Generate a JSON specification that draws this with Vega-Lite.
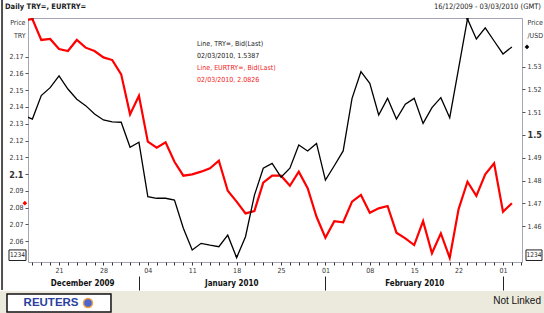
{
  "$schema": "https://vega.github.io/schema/vega-lite/v6.json",
  "width": 494,
  "height": 244,
  "autosize": {"type": "none"},
  "padding": {"left": 28, "top": 18, "right": 22, "bottom": 51},
  "background": "white",
  "config": {
    "font": "Liberation Sans Narrow, Arial Narrow, DejaVu Sans Condensed, Liberation Sans, sans-serif",
    "view": {"stroke": "#a6a6b6", "strokeWidth": 1},
    "axis": {"grid": false, "domain": false}
  },
  "datasets": {
    "fx": [
      {"i": -1, "date": "2009-12-15", "TRY": 1.5086, "EURTRY": 2.1914},
      {"i": 0, "date": "2009-12-16", "TRY": 1.5070, "EURTRY": 2.1925},
      {"i": 1, "date": "2009-12-17", "TRY": 1.5173, "EURTRY": 2.1800},
      {"i": 2, "date": "2009-12-18", "TRY": 1.5208, "EURTRY": 2.1806},
      {"i": 3, "date": "2009-12-21", "TRY": 1.5260, "EURTRY": 2.1746},
      {"i": 4, "date": "2009-12-22", "TRY": 1.5202, "EURTRY": 2.1734},
      {"i": 5, "date": "2009-12-23", "TRY": 1.5157, "EURTRY": 2.1800},
      {"i": 6, "date": "2009-12-24", "TRY": 1.5129, "EURTRY": 2.1754},
      {"i": 7, "date": "2009-12-25", "TRY": 1.5092, "EURTRY": 2.1734},
      {"i": 8, "date": "2009-12-28", "TRY": 1.5066, "EURTRY": 2.1696},
      {"i": 9, "date": "2009-12-29", "TRY": 1.5058, "EURTRY": 2.1680},
      {"i": 10, "date": "2009-12-30", "TRY": 1.5056, "EURTRY": 2.1595},
      {"i": 11, "date": "2009-12-31", "TRY": 1.4946, "EURTRY": 2.1356},
      {"i": 12, "date": "2010-01-01", "TRY": 1.4968, "EURTRY": 2.1467},
      {"i": 13, "date": "2010-01-04", "TRY": 1.4729, "EURTRY": 2.1193},
      {"i": 14, "date": "2010-01-05", "TRY": 1.4722, "EURTRY": 2.1157},
      {"i": 15, "date": "2010-01-06", "TRY": 1.4722, "EURTRY": 2.1189},
      {"i": 16, "date": "2010-01-07", "TRY": 1.4714, "EURTRY": 2.1073},
      {"i": 17, "date": "2010-01-08", "TRY": 1.4590, "EURTRY": 2.0990},
      {"i": 18, "date": "2010-01-11", "TRY": 1.4495, "EURTRY": 2.0998},
      {"i": 19, "date": "2010-01-12", "TRY": 1.4524, "EURTRY": 2.1014},
      {"i": 20, "date": "2010-01-13", "TRY": 1.4516, "EURTRY": 2.1034},
      {"i": 21, "date": "2010-01-14", "TRY": 1.4509, "EURTRY": 2.1079},
      {"i": 22, "date": "2010-01-15", "TRY": 1.4560, "EURTRY": 2.0900},
      {"i": 23, "date": "2010-01-18", "TRY": 1.4461, "EURTRY": 2.0835},
      {"i": 24, "date": "2010-01-19", "TRY": 1.4553, "EURTRY": 2.0765},
      {"i": 25, "date": "2010-01-20", "TRY": 1.4735, "EURTRY": 2.0779},
      {"i": 26, "date": "2010-01-21", "TRY": 1.4854, "EURTRY": 2.0948},
      {"i": 27, "date": "2010-01-22", "TRY": 1.4875, "EURTRY": 2.0990},
      {"i": 28, "date": "2010-01-25", "TRY": 1.4815, "EURTRY": 2.0990},
      {"i": 29, "date": "2010-01-26", "TRY": 1.4854, "EURTRY": 2.0930},
      {"i": 30, "date": "2010-01-27", "TRY": 1.4956, "EURTRY": 2.1014},
      {"i": 31, "date": "2010-01-28", "TRY": 1.4930, "EURTRY": 2.0915},
      {"i": 32, "date": "2010-01-29", "TRY": 1.4963, "EURTRY": 2.0745},
      {"i": 33, "date": "2010-02-01", "TRY": 1.4802, "EURTRY": 2.0620},
      {"i": 34, "date": "2010-02-02", "TRY": 1.4865, "EURTRY": 2.0719},
      {"i": 35, "date": "2010-02-03", "TRY": 1.4930, "EURTRY": 2.0712},
      {"i": 36, "date": "2010-02-04", "TRY": 1.5161, "EURTRY": 2.0835},
      {"i": 37, "date": "2010-02-05", "TRY": 1.5278, "EURTRY": 2.0875},
      {"i": 38, "date": "2010-02-08", "TRY": 1.5227, "EURTRY": 2.0769},
      {"i": 39, "date": "2010-02-09", "TRY": 1.5088, "EURTRY": 2.0795},
      {"i": 40, "date": "2010-02-10", "TRY": 1.5161, "EURTRY": 2.0809},
      {"i": 41, "date": "2010-02-11", "TRY": 1.5070, "EURTRY": 2.0650},
      {"i": 42, "date": "2010-02-12", "TRY": 1.5135, "EURTRY": 2.0616},
      {"i": 43, "date": "2010-02-15", "TRY": 1.5161, "EURTRY": 2.0576},
      {"i": 44, "date": "2010-02-16", "TRY": 1.5051, "EURTRY": 2.0719},
      {"i": 45, "date": "2010-02-17", "TRY": 1.5120, "EURTRY": 2.0527},
      {"i": 46, "date": "2010-02-18", "TRY": 1.5164, "EURTRY": 2.0646},
      {"i": 47, "date": "2010-02-19", "TRY": 1.5076, "EURTRY": 2.0500},
      {"i": 48, "date": "2010-02-22", "TRY": 1.5293, "EURTRY": 2.0791},
      {"i": 49, "date": "2010-02-23", "TRY": 1.5510, "EURTRY": 2.0954},
      {"i": 50, "date": "2010-02-24", "TRY": 1.5422, "EURTRY": 2.0870},
      {"i": 51, "date": "2010-02-25", "TRY": 1.5471, "EURTRY": 2.0998},
      {"i": 52, "date": "2010-02-26", "TRY": 1.5413, "EURTRY": 2.1064},
      {"i": 53, "date": "2010-03-01", "TRY": 1.5356, "EURTRY": 2.0775},
      {"i": 54, "date": "2010-03-02", "TRY": 1.5387, "EURTRY": 2.0826}
    ]
  },
  "data": {"name": "fx"},
  "resolve": {"scale": {"y": "independent"}, "axis": {"x": "independent"}},
  "layer": [
    {
      "data": {"values": [{"part": "footer"}]},
      "mark": {"type": "rect", "color": "#ECEADC"},
      "encoding": {
        "x": {"datum": -4, "type": "quantitative", "scale": {"domain": [-0.495, 55.14], "nice": false, "zero": false}, "axis": null},
        "x2": {"datum": 58},
        "y": {"datum": 2.0302, "type": "quantitative", "scale": {"domain": [2.0475, 2.1931], "nice": false, "zero": false}, "axis": null},
        "y2": {"datum": 2.015}
      }
    },
    {
      "data": {"values": [{"part": "border"}]},
      "mark": {"type": "rule", "color": "#505050", "strokeWidth": 2},
      "encoding": {
        "x": {"datum": -3.42, "type": "quantitative", "scale": {"domain": [-0.495, 55.14], "nice": false, "zero": false}, "axis": null},
        "y": {"datum": 2.2038, "type": "quantitative", "scale": {"domain": [2.0475, 2.1931], "nice": false, "zero": false}, "axis": null},
        "y2": {"datum": 2.0308}
      }
    },
    {
      "mark": {"type": "line", "color": "#ff0000", "strokeWidth": 2.2, "clip": true},
      "encoding": {
        "x": {
          "field": "i", "type": "quantitative",
          "scale": {"domain": [-0.495, 55.14], "nice": false, "zero": false},
          "axis": {
            "orient": "bottom",
            "values": [0,1,2,3,4,5,6,7,8,9,10,11,12,13,14,15,16,17,18,19,20,21,22,23,24,25,26,27,28,29,30,31,32,33,34,35,36,37,38,39,40,41,42,43,44,45,46,47,48,49,50,51,52,53,54,55],
            "labelExpr": "(datum.value - 3) % 5 == 0 ? ['21','28','04','11','18','25','01','08','15','22','01'][(datum.value - 3) / 5] : ''",
            "tickSize": 3, "tickColor": "#333333", "tickWidth": 1,
            "labelFontSize": 7, "labelColor": "#333333", "labelPadding": 1,
            "labelOverlap": false, "labelBound": false, "labelFlush": false,
            "title": null, "domain": false, "grid": false
          }
        },
        "y": {
          "field": "EURTRY", "type": "quantitative",
          "scale": {"domain": [2.0475, 2.1931], "nice": false, "zero": false},
          "axis": {
            "orient": "left",
            "values": [2.06, 2.07, 2.08, 2.09, 2.1, 2.11, 2.12, 2.13, 2.14, 2.15, 2.16, 2.17],
            "format": ".3~g",
            "tickSize": 3, "tickColor": "#555555",
            "labelFontSize": {"condition": {"test": "datum.value == 2.1", "value": 9}, "value": 7},
            "labelFontWeight": {"condition": {"test": "datum.value == 2.1", "value": "bold"}, "value": "normal"},
            "labelColor": "#333333", "labelPadding": 2,
            "domain": false, "grid": false,
            "title": ["Price", "TRY"], "titleAngle": 0, "titleAlign": "right", "titleBaseline": "top",
            "titleX": -3, "titleY": 0, "titleFontSize": 7, "titleFontWeight": "normal",
            "titleColor": "#333333", "titleLineHeight": 13
          }
        }
      }
    },
    {
      "mark": {"type": "line", "color": "#000000", "strokeWidth": 1.3, "clip": true},
      "encoding": {
        "x": {
          "field": "i", "type": "quantitative",
          "scale": {"domain": [-0.495, 55.14], "nice": false, "zero": false},
          "axis": {
            "orient": "bottom", "offset": 14,
            "values": [5.6, 12, 22.4, 33, 43, 53],
            "labelExpr": "datum.value == 5.6 ? 'December 2009' : datum.value == 22.4 ? 'January 2010' : datum.value == 43 ? 'February 2010' : ''",
            "tickSize": 14, "tickColor": "#222222", "tickWidth": 1,
            "tickOpacity": {"condition": {"test": "datum.value == 12 || datum.value == 33 || datum.value == 53", "value": 1}, "value": 0},
            "labelFontSize": 8, "labelFontWeight": "bold", "labelColor": "#111111",
            "labelBaseline": "middle", "labelPadding": -7,
            "labelOverlap": false, "labelBound": false, "labelFlush": false,
            "title": null, "domain": false, "grid": false
          }
        },
        "y": {
          "field": "TRY", "type": "quantitative",
          "scale": {"domain": [1.4442, 1.5514], "nice": false, "zero": false},
          "axis": {
            "orient": "right",
            "values": [1.46, 1.47, 1.48, 1.49, 1.5, 1.51, 1.52, 1.53],
            "format": ".3~g",
            "tickSize": 3, "tickColor": "#555555",
            "labelFontSize": {"condition": {"test": "datum.value == 1.5", "value": 9}, "value": 7},
            "labelFontWeight": {"condition": {"test": "datum.value == 1.5", "value": "bold"}, "value": "normal"},
            "labelColor": "#333333", "labelPadding": 2,
            "domain": false, "grid": false,
            "title": ["Price", "/USD"], "titleAngle": 0, "titleAlign": "left", "titleBaseline": "top",
            "titleX": 5, "titleY": 0, "titleFontSize": 7, "titleFontWeight": "normal",
            "titleColor": "#333333", "titleLineHeight": 13
          }
        }
      }
    },
    {
      "data": {"values": [{"label": "Line, TRY=, Bid(Last)\n02/03/2010, 1.5387"}]},
      "mark": {"type": "text", "align": "left", "baseline": "middle", "fontSize": 7, "lineHeight": 12, "lineBreak": "\n", "fill": "#1a1a1a"},
      "encoding": {
        "x": {"datum": 18.54, "type": "quantitative", "scale": {"domain": [-0.495, 55.14], "nice": false, "zero": false}, "axis": null},
        "y": {"datum": 2.1777, "type": "quantitative", "scale": {"domain": [2.0475, 2.1931], "nice": false, "zero": false}, "axis": null},
        "text": {"field": "label"}
      }
    },
    {
      "data": {"values": [{"label": "Line, EURTRY=, Bid(Last)\n02/03/2010, 2.0826"}]},
      "mark": {"type": "text", "align": "left", "baseline": "middle", "fontSize": 7, "lineHeight": 12, "lineBreak": "\n", "fill": "#f01c1c"},
      "encoding": {
        "x": {"datum": 18.54, "type": "quantitative", "scale": {"domain": [-0.495, 55.14], "nice": false, "zero": false}, "axis": null},
        "y": {"datum": 2.1633, "type": "quantitative", "scale": {"domain": [2.0475, 2.1931], "nice": false, "zero": false}, "axis": null},
        "text": {"field": "label"}
      }
    },
    {
      "transform": [{"filter": "datum.i == 54"}],
      "mark": {"type": "point", "shape": "diamond", "filled": true, "size": 22, "color": "#ff0000", "opacity": 1},
      "encoding": {
        "x": {"datum": -0.85, "type": "quantitative", "scale": {"domain": [-0.495, 55.14], "nice": false, "zero": false}, "axis": null},
        "y": {"field": "EURTRY", "type": "quantitative", "scale": {"domain": [2.0475, 2.1931], "nice": false, "zero": false}, "axis": null}
      }
    },
    {
      "transform": [{"filter": "datum.i == 54"}],
      "mark": {"type": "point", "shape": "diamond", "filled": true, "size": 22, "color": "#000000", "opacity": 1},
      "encoding": {
        "x": {"datum": 55.7, "type": "quantitative", "scale": {"domain": [-0.495, 55.14], "nice": false, "zero": false}, "axis": null},
        "y": {"field": "TRY", "type": "quantitative", "scale": {"domain": [1.4442, 1.5514], "nice": false, "zero": false}, "axis": null}
      }
    },
    {
      "transform": [{"joinaggregate": [{"op": "max", "field": "EURTRY", "as": "m"}]}, {"filter": "datum.EURTRY == datum.m"}],
      "mark": {"type": "point", "shape": "triangle-down", "filled": true, "size": 12, "color": "#cc0000", "opacity": 1},
      "encoding": {
        "x": {"field": "i", "type": "quantitative", "scale": {"domain": [-0.495, 55.14], "nice": false, "zero": false}, "axis": null},
        "y": {"datum": 2.1921, "type": "quantitative", "scale": {"domain": [2.0475, 2.1931], "nice": false, "zero": false}, "axis": null}
      }
    },
    {
      "transform": [{"joinaggregate": [{"op": "min", "field": "EURTRY", "as": "m"}]}, {"filter": "datum.EURTRY == datum.m"}],
      "mark": {"type": "point", "shape": "triangle-down", "filled": true, "size": 12, "color": "#cc0000", "opacity": 1},
      "encoding": {
        "x": {"field": "i", "type": "quantitative", "scale": {"domain": [-0.495, 55.14], "nice": false, "zero": false}, "axis": null},
        "y": {"datum": 2.0506, "type": "quantitative", "scale": {"domain": [2.0475, 2.1931], "nice": false, "zero": false}, "axis": null}
      }
    },
    {
      "transform": [{"joinaggregate": [{"op": "max", "field": "TRY", "as": "m"}]}, {"filter": "datum.TRY == datum.m"}],
      "mark": {"type": "point", "shape": "triangle-down", "filled": true, "size": 12, "color": "#000000", "opacity": 1},
      "encoding": {
        "x": {"field": "i", "type": "quantitative", "scale": {"domain": [-0.495, 55.14], "nice": false, "zero": false}, "axis": null},
        "y": {"datum": 2.1921, "type": "quantitative", "scale": {"domain": [2.0475, 2.1931], "nice": false, "zero": false}, "axis": null}
      }
    },
    {
      "transform": [{"joinaggregate": [{"op": "min", "field": "TRY", "as": "m"}]}, {"filter": "datum.TRY == datum.m"}],
      "mark": {"type": "point", "shape": "triangle-down", "filled": true, "size": 12, "color": "#000000", "opacity": 1},
      "encoding": {
        "x": {"field": "i", "type": "quantitative", "scale": {"domain": [-0.495, 55.14], "nice": false, "zero": false}, "axis": null},
        "y": {"datum": 2.0506, "type": "quantitative", "scale": {"domain": [2.0475, 2.1931], "nice": false, "zero": false}, "axis": null}
      }
    },
    {
      "data": {"values": [{"part": "box"}]},
      "mark": {"type": "rect", "fill": "white", "stroke": "#222222", "strokeWidth": 1},
      "encoding": {
        "x": {"datum": -2.635, "type": "quantitative", "scale": {"domain": [-0.495, 55.14], "nice": false, "zero": false}, "axis": null},
        "x2": {"datum": -0.72},
        "y": {"datum": 2.0547, "type": "quantitative", "scale": {"domain": [2.0475, 2.1931], "nice": false, "zero": false}, "axis": null},
        "y2": {"datum": 2.0484}
      }
    },
    {
      "data": {"values": [{"part": "box"}]},
      "mark": {"type": "rect", "fill": "white", "stroke": "#222222", "strokeWidth": 1},
      "encoding": {
        "x": {"datum": 55.59, "type": "quantitative", "scale": {"domain": [-0.495, 55.14], "nice": false, "zero": false}, "axis": null},
        "x2": {"datum": 57.39},
        "y": {"datum": 2.0547, "type": "quantitative", "scale": {"domain": [2.0475, 2.1931], "nice": false, "zero": false}, "axis": null},
        "y2": {"datum": 2.0484}
      }
    },
    {
      "data": {"values": [{"label": "1234"}]},
      "mark": {"type": "text", "align": "center", "baseline": "middle", "fontSize": 6.5, "color": "#222222"},
      "encoding": {
        "x": {"datum": -1.678, "type": "quantitative", "scale": {"domain": [-0.495, 55.14], "nice": false, "zero": false}, "axis": null},
        "y": {"datum": 2.0515, "type": "quantitative", "scale": {"domain": [2.0475, 2.1931], "nice": false, "zero": false}, "axis": null},
        "text": {"field": "label"}
      }
    },
    {
      "data": {"values": [{"label": "1234"}]},
      "mark": {"type": "text", "align": "center", "baseline": "middle", "fontSize": 6.5, "color": "#222222"},
      "encoding": {
        "x": {"datum": 56.49, "type": "quantitative", "scale": {"domain": [-0.495, 55.14], "nice": false, "zero": false}, "axis": null},
        "y": {"datum": 2.0515, "type": "quantitative", "scale": {"domain": [2.0475, 2.1931], "nice": false, "zero": false}, "axis": null},
        "text": {"field": "label"}
      }
    },
    {
      "data": {"values": [{"label": "Daily TRY=, EURTRY="}]},
      "mark": {"type": "text", "align": "left", "baseline": "middle", "fontSize": 7.5, "fontWeight": "bold", "color": "#222222"},
      "encoding": {
        "x": {"datum": -3.085, "type": "quantitative", "scale": {"domain": [-0.495, 55.14], "nice": false, "zero": false}, "axis": null},
        "y": {"datum": 2.1997, "type": "quantitative", "scale": {"domain": [2.0475, 2.1931], "nice": false, "zero": false}, "axis": null},
        "text": {"field": "label"}
      }
    },
    {
      "data": {"values": [{"label": "16/12/2009 - 03/03/2010 (GMT)"}]},
      "mark": {"type": "text", "align": "right", "baseline": "middle", "fontSize": 7.5, "color": "#222222"},
      "encoding": {
        "x": {"datum": 57.28, "type": "quantitative", "scale": {"domain": [-0.495, 55.14], "nice": false, "zero": false}, "axis": null},
        "y": {"datum": 2.1997, "type": "quantitative", "scale": {"domain": [2.0475, 2.1931], "nice": false, "zero": false}, "axis": null},
        "text": {"field": "label"}
      }
    },
    {
      "data": {"values": [{"part": "logo"}]},
      "mark": {"type": "rect", "fill": "white", "stroke": "#111111", "strokeWidth": 1.5},
      "encoding": {
        "x": {"datum": -2.86, "type": "quantitative", "scale": {"domain": [-0.495, 55.14], "nice": false, "zero": false}, "axis": null},
        "x2": {"datum": 8.85},
        "y": {"datum": 2.0284, "type": "quantitative", "scale": {"domain": [2.0475, 2.1931], "nice": false, "zero": false}, "axis": null},
        "y2": {"datum": 2.0177}
      }
    },
    {
      "data": {"values": [{"label": "REUTERS"}]},
      "mark": {"type": "text", "align": "center", "baseline": "middle", "fontSize": 11.5, "fontWeight": "bold", "font": "Liberation Sans, Arial, sans-serif", "color": "#2a3f9e"},
      "encoding": {
        "x": {"datum": 2.1, "type": "quantitative", "scale": {"domain": [-0.495, 55.14], "nice": false, "zero": false}, "axis": null},
        "y": {"datum": 2.0230, "type": "quantitative", "scale": {"domain": [2.0475, 2.1931], "nice": false, "zero": false}, "axis": null},
        "text": {"field": "label"}
      }
    },
    {
      "data": {"values": [{"part": "globe"}]},
      "mark": {"type": "point", "shape": "circle", "filled": true, "size": 80, "color": "#4a64d0", "stroke": "#f0a040", "strokeWidth": 1.5, "opacity": 1},
      "encoding": {
        "x": {"datum": 6.26, "type": "quantitative", "scale": {"domain": [-0.495, 55.14], "nice": false, "zero": false}, "axis": null},
        "y": {"datum": 2.0230, "type": "quantitative", "scale": {"domain": [2.0475, 2.1931], "nice": false, "zero": false}, "axis": null}
      }
    },
    {
      "data": {"values": [{"label": "Not Linked"}]},
      "mark": {"type": "text", "align": "right", "baseline": "middle", "fontSize": 10, "font": "Liberation Sans, Arial, sans-serif", "color": "#111111"},
      "encoding": {
        "x": {"datum": 57.28, "type": "quantitative", "scale": {"domain": [-0.495, 55.14], "nice": false, "zero": false}, "axis": null},
        "y": {"datum": 2.0242, "type": "quantitative", "scale": {"domain": [2.0475, 2.1931], "nice": false, "zero": false}, "axis": null},
        "text": {"field": "label"}
      }
    }
  ]
}
